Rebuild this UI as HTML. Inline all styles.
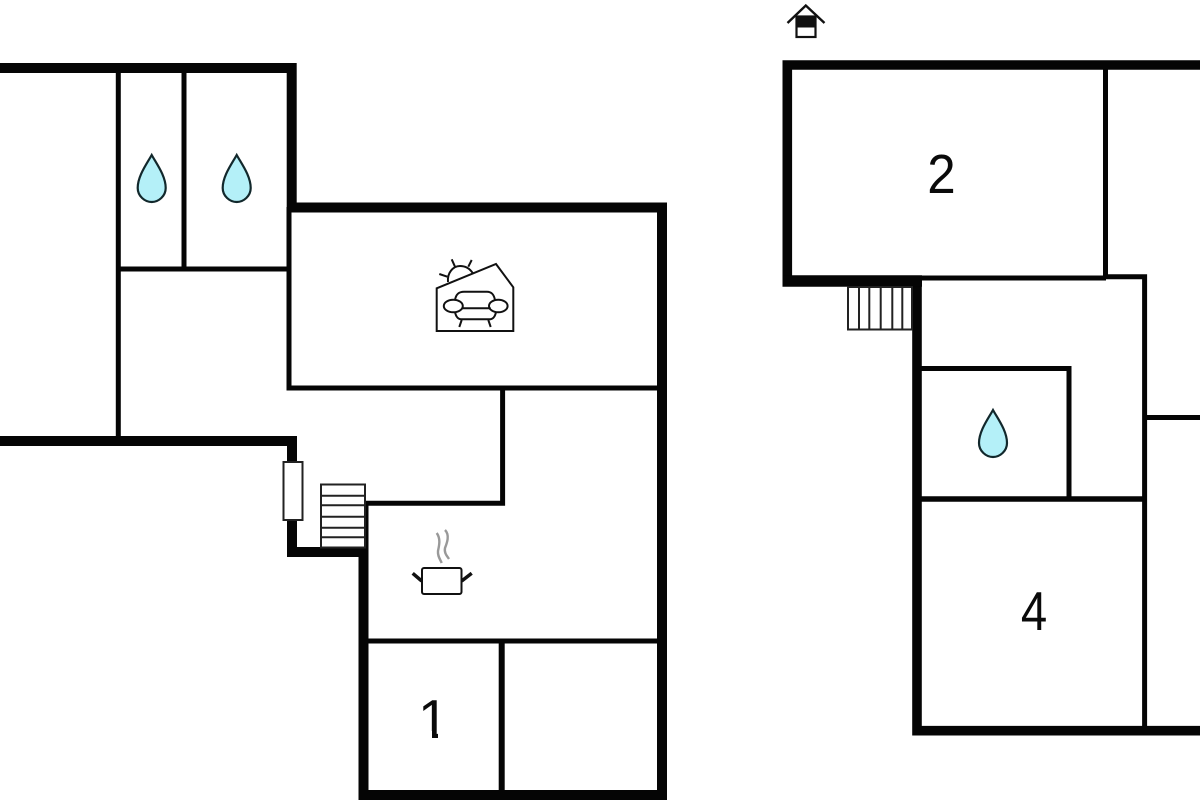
<!DOCTYPE html>
<html><head><meta charset="utf-8"><style>
html,body{margin:0;padding:0;background:#fff}
svg{display:block}
text{font-family:"Liberation Sans",sans-serif;fill:#0a0a0a}
</style></head><body>
<svg width="1200" height="800" viewBox="0 0 1200 800" xmlns="http://www.w3.org/2000/svg">
<rect width="1200" height="800" fill="#fff"/>
<defs>
<path id="d" d="M0,-23 C5,-14 14,-2 14,10 C14,18 7,24 0,24 C-7,24 -14,18 -14,10 C-14,-2 -5,-14 0,-23Z" fill="#b4f0f8" stroke="#12282c" stroke-width="2.200"/>
</defs>
<g fill="none" stroke="#050505" stroke-linejoin="miter" stroke-linecap="butt">
<!-- Left plan: thin walls -->
<g stroke-width="5">
<path d="M118.300,68 V441"/>
<path d="M184,68 V269"/>
<path d="M118,269 H289"/>
<path d="M289,207 V388 H662"/>
<path d="M502.600,388 V503.300 H364"/>
<path d="M364,641 H662"/>
<path d="M501.700,641 V795" stroke-width="6"/>
</g>
<!-- Left plan: thick walls -->
<g stroke-width="10">
<path d="M0,68 H291.700 V207.500 H662 V795 H363.500 V503"/>
<path d="M0,441 H292 V552 H364"/>
</g>
<!-- Right plan: thin walls -->
<g stroke-width="5">
<path d="M1105.500,65 V278"/>
<path d="M917,278 H1106"/>
<path d="M1105,276.700 H1144.600 V731"/>
<path d="M917,368.500 H1069 V499"/>
<path d="M917,499 H1144" stroke-width="5.500"/>
<path d="M1144,417.500 H1200"/>
</g>
<!-- Right plan: thick walls -->
<g stroke-width="9.600">
<path d="M1200,65 H787.300 V281"/>
<path d="M917,276 V730.700 H1200"/>
</g>
<path d="M782.500,281 H922" stroke-width="11.500"/>
</g>
<!-- Window -->
<rect x="283.500" y="462" width="19" height="58" fill="#fff" stroke="#222" stroke-width="2"/>
<!-- Left stairs -->
<rect x="321" y="484.500" width="44" height="63" fill="#fff" stroke="#222" stroke-width="2"/>
<path d="M321,495.700 H365M321,505.300 H365M321,516.700 H365M321,527.700 H365M321,537.300 H365" stroke="#222" stroke-width="2"/>
<!-- Right stairs -->
<rect x="848" y="287" width="64" height="42.500" fill="#fff" stroke="#222" stroke-width="2"/>
<path d="M859,287 V329M869.300,287 V329M880.700,287 V329M892.300,287 V329M902.300,287 V329" stroke="#222" stroke-width="2"/>
<!-- Drops -->
<use href="#d" x="151.700" y="178"/>
<use href="#d" x="236.700" y="178"/>
<use href="#d" x="993" y="433"/>
<!-- Living icon -->
<g fill="none" stroke="#111" stroke-width="2">
<path d="M448,282 C447,273 453,266 460,266 C466,266 470,269 472.700,273"/>
<path d="M439.300,274 L447.300,276.700M451.700,259.300 L455,266.700M471.700,260 L468.300,266.700"/>
<path d="M436.700,288.300 L496,264 L513.300,287.300 V331 H436.700Z"/>
<path d="M455,300 C456,294 459,291.700 464,291.700 H487 C492,291.700 494,295 495,300"/>
<ellipse cx="453.300" cy="306" rx="9.500" ry="6.300"/>
<ellipse cx="498.300" cy="306" rx="9.300" ry="6.300"/>
<path d="M461.700,308.300 H490.700M455,312 C456,317 458,319.300 462,319.300 H489 C493,319.300 495,317 496,312"/>
<path d="M461.700,320 L459.300,327M488.300,320 L490.700,327"/>
</g>
<!-- Pot icon -->
<rect x="422" y="568" width="39.500" height="26" rx="2" fill="#fff" stroke="#111" stroke-width="2"/>
<path d="M412.700,573.300 L421.700,581M471.700,573.300 L461.700,581" stroke="#111" stroke-width="3.500"/>
<path d="M436.700,533 C441,539 439,546 438,551 C437.500,556 440,559 441.700,563M445,530 C450,535 447,543 445,548 C444,553 447,556 449,559" fill="none" stroke="#999" stroke-width="2.400"/>
<!-- House icon -->
<rect x="796.500" y="16.500" width="19" height="20.500" fill="#fff" stroke="#111" stroke-width="2.200"/>
<rect x="796" y="16" width="20" height="11.500" fill="#111"/>
<path d="M787.500,23 L805.800,5.500 L824.500,23" fill="none" stroke="#111" stroke-width="2.400"/>
<!-- Labels -->
<text transform="translate(941.500,193) scale(0.93,1)" font-size="55" text-anchor="middle">2</text>
<text transform="translate(1034,630) scale(0.86,1)" font-size="55" text-anchor="middle">4</text>
<text x="418" y="738" font-size="55">1</text>
<rect x="414" y="731" width="18" height="9" fill="#fff"/>
<rect x="438" y="731" width="14" height="9" fill="#fff"/>
</svg>
</body></html>
